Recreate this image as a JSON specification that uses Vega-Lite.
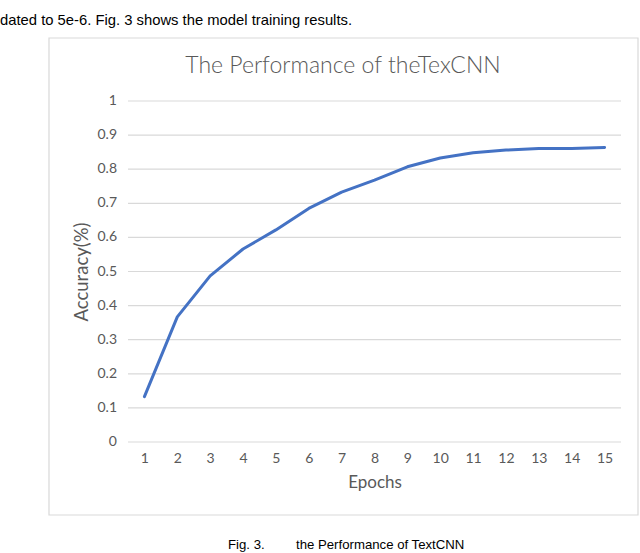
{
  "$schema": "https://vega.github.io/schema/vega-lite/v6.json",
  "width": 493,
  "height": 341,
  "autosize": {"type": "none"},
  "padding": {"left": 128, "top": 101, "right": 19, "bottom": 111},
  "background": "white",
  "config": {
    "view": {"stroke": null},
    "font": "Lato",
    "axisX": {
      "tickCount": 15,
      "grid": false,
      "ticks": false,
      "domain": false,
      "labelOverlap": false,
      "labelFlush": false,
      "labelFont": "Lato",
      "labelFontSize": 14,
      "labelColor": "#595959",
      "labelPadding": 9,
      "titleFont": "Lato",
      "titleFontSize": 17,
      "titleFontWeight": "normal",
      "titleColor": "#595959",
      "titlePadding": 9
    },
    "axisY": {
      "grid": false,
      "ticks": false,
      "domain": false,
      "labels": false,
      "titleFont": "Lato",
      "titleFontSize": 18.5,
      "titleFontWeight": "normal",
      "titleColor": "#595959",
      "titlePadding": 37
    }
  },
  "resolve": {"axis": {"x": "independent", "y": "independent"}},
  "datasets": {
    "accuracy": [
      {"epoch": 1, "accuracy": 0.133},
      {"epoch": 2, "accuracy": 0.367},
      {"epoch": 3, "accuracy": 0.487},
      {"epoch": 4, "accuracy": 0.566},
      {"epoch": 5, "accuracy": 0.622},
      {"epoch": 6, "accuracy": 0.685},
      {"epoch": 7, "accuracy": 0.733},
      {"epoch": 8, "accuracy": 0.768},
      {"epoch": 9, "accuracy": 0.807},
      {"epoch": 10, "accuracy": 0.833},
      {"epoch": 11, "accuracy": 0.848},
      {"epoch": 12, "accuracy": 0.856},
      {"epoch": 13, "accuracy": 0.861},
      {"epoch": 14, "accuracy": 0.861},
      {"epoch": 15, "accuracy": 0.864}
    ],
    "yticks": [
      {"tick": 0, "label": "0"},
      {"tick": 0.1, "label": "0.1"},
      {"tick": 0.2, "label": "0.2"},
      {"tick": 0.3, "label": "0.3"},
      {"tick": 0.4, "label": "0.4"},
      {"tick": 0.5, "label": "0.5"},
      {"tick": 0.6, "label": "0.6"},
      {"tick": 0.7, "label": "0.7"},
      {"tick": 0.8, "label": "0.8"},
      {"tick": 0.9, "label": "0.9"},
      {"tick": 1, "label": "1"}
    ]
  },
  "layer": [
    {
      "data": {"name": "yticks"},
      "mark": {"type": "rule", "color": "#d9d9d9", "strokeWidth": 1.2},
      "encoding": {
        "y": {"field": "tick", "type": "quantitative", "axis": null},
        "x": {"datum": 0.5, "type": "quantitative", "axis": null},
        "x2": {"datum": 15.5}
      }
    },
    {
      "data": {"name": "yticks"},
      "mark": {"type": "text", "font": "Lato", "fontSize": 14, "color": "#595959", "align": "right", "baseline": "middle", "clip": false},
      "encoding": {
        "y": {"field": "tick", "type": "quantitative", "axis": null},
        "x": {"datum": 0.1653, "type": "quantitative", "axis": null},
        "text": {"field": "label", "type": "nominal"}
      }
    },
    {
      "data": {"name": "accuracy"},
      "mark": {"type": "line", "color": "#4472C4", "strokeWidth": 3, "strokeCap": "round", "strokeJoin": "round"},
      "encoding": {
        "x": {
          "field": "epoch",
          "type": "quantitative",
          "scale": {"domain": [0.5, 15.5], "nice": false, "zero": false},
          "axis": {
            "title": "Epochs",
            "values": [1,2,3,4,5,6,7,8,9,10,11,12,13,14,15],
            "format": "d",
            "labelOverlap": false
          }
        },
        "y": {
          "field": "accuracy",
          "type": "quantitative",
          "scale": {"domain": [0, 1], "nice": false},
          "axis": {
            "title": "Accuracy(%)",
            "labels": false,
            "grid": false,
            "ticks": false,
            "domain": false,
            "titlePadding": 37
          }
        }
      }
    },
    {
      "data": {"values": [{}]},
      "mark": {"type": "rect", "fill": null, "stroke": "#d9d9d9", "strokeWidth": 1.2, "clip": false},
      "encoding": {
        "x": {"datum": -1.904, "type": "quantitative", "axis": null},
        "x2": {"datum": 16.017},
        "y": {"datum": 1.1848, "type": "quantitative", "axis": null},
        "y2": {"datum": -0.2141}
      }
    },
    {
      "data": {"values": [{}]},
      "mark": {"type": "text", "text": "The Performance of theTexCNN", "font": "Lato", "fontSize": 23, "fontWeight": 300, "align": "center", "baseline": "middle", "color": "#595959", "clip": false},
      "encoding": {
        "x": {"datum": 7.0414, "type": "quantitative", "axis": null},
        "y": {"datum": 1.1026, "type": "quantitative", "axis": null}
      }
    },
    {
      "data": {"values": [{}]},
      "mark": {"type": "text", "text": "dated to 5e-6. Fig. 3 shows the model training results.", "font": "Liberation Sans", "fontSize": 14.8, "align": "left", "baseline": "middle", "color": "#000000", "clip": false},
      "encoding": {
        "x": {"datum": -3.3945, "type": "quantitative", "axis": null},
        "y": {"datum": 1.2346, "type": "quantitative", "axis": null}
      }
    },
    {
      "data": {"values": [{}]},
      "mark": {"type": "text", "text": "Fig. 3.", "font": "Liberation Sans", "fontSize": 13.2, "align": "left", "baseline": "middle", "color": "#000000", "clip": false},
      "encoding": {
        "x": {"datum": 3.5426, "type": "quantitative", "axis": null},
        "y": {"datum": -0.302, "type": "quantitative", "axis": null}
      }
    },
    {
      "data": {"values": [{}]},
      "mark": {"type": "text", "text": "the Performance of TextCNN", "font": "Liberation Sans", "fontSize": 13.2, "align": "left", "baseline": "middle", "color": "#000000", "clip": false},
      "encoding": {
        "x": {"datum": 5.6115, "type": "quantitative", "axis": null},
        "y": {"datum": -0.302, "type": "quantitative", "axis": null}
      }
    }
  ]
}
